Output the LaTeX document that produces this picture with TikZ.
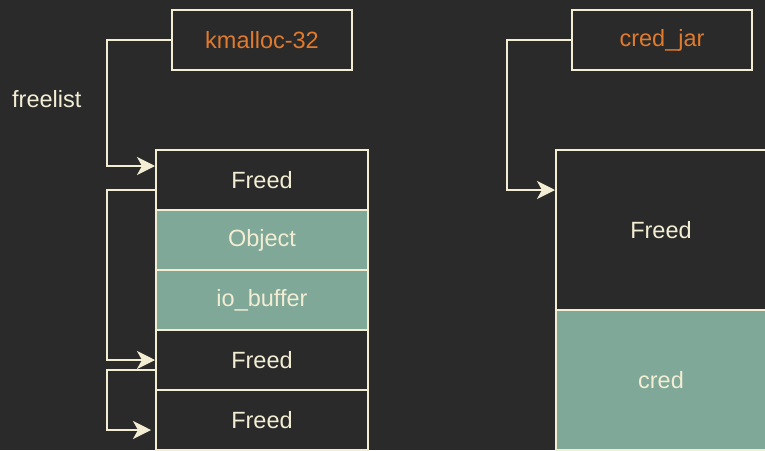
\documentclass[tikz,border=0pt]{standalone}
\usepackage{fontspec}
\setmainfont{Liberation Sans}
\definecolor{BgDark}{HTML}{2A2A2A}
\definecolor{LineCream}{HTML}{F2EDD3}
\definecolor{SlabTeal}{HTML}{7FA898}
\definecolor{CacheOrange}{HTML}{E07A2C}
\usetikzlibrary{arrows.meta, positioning, calc}

\begin{document}
\begin{tikzpicture}[x=1pt, y=-1pt,
  cachebox/.style={draw=LineCream, line width=2pt, minimum width=180pt, minimum height=60pt,
                   inner sep=0pt, font=\fontsize{23.5}{28}\selectfont, text=CacheOrange},
  slot/.style={draw=LineCream, line width=2pt, minimum width=212pt, minimum height=60pt,
               inner sep=0pt, font=\fontsize{23.5}{28}\selectfont, text=LineCream},
  link/.style={-{Stealth[length=18pt, width=18pt, inset=5pt]}, draw=LineCream, line width=2pt}]
  % background
  \fill[BgDark] (0,0) rectangle (765,450);
  \useasboundingbox (0,0) rectangle (765,450);
  \clip (0,0) rectangle (765,450);

  % kmalloc-32 slab
  \node[cachebox] (kmalloc) at (262,40) {kmalloc-32};
  \node[slot, fill=BgDark] (free1) at (262,180) {Freed};
  \node[slot, fill=SlabTeal] (object) at (262,240) {Object};
  \node[slot, fill=SlabTeal] (iobuf) at (262,300) {io\_buffer};
  \node[slot, fill=BgDark] (free2) at (262,360) {Freed};
  \node[slot, fill=BgDark] (free3) at (262,420) {Freed};
  \node[font=\fontsize{23.5}{28}\selectfont, text=LineCream, anchor=west, inner sep=0pt]
    (freelist) at (12,99) {freelist};

  % cred_jar slab
  \node[cachebox] (credjar) at (662,40) {cred\_jar};
  \node[slot, fill=BgDark, minimum width=210pt, minimum height=160pt] (credfree) at (661,230) {Freed};
  \node[slot, fill=SlabTeal, minimum width=210pt, minimum height=140pt] (cred) at (661,380) {cred};

  % freelist links
  \draw[link] (kmalloc.west) -- ++(-64,0) |- ([yshift=14pt]free1.west);
  \draw[link] ([yshift=-10pt]free1.west) -- ++(-48,0) |- (free2.west);
  \draw[link, shorten >=4pt] ([yshift=-10pt]free2.west) -- ++(-48,0) |- ([yshift=-10pt]free3.west);
  \draw[link] (credjar.west) -- ++(-64,0) |- ([yshift=40pt]credfree.west);
\end{tikzpicture}
\end{document}
